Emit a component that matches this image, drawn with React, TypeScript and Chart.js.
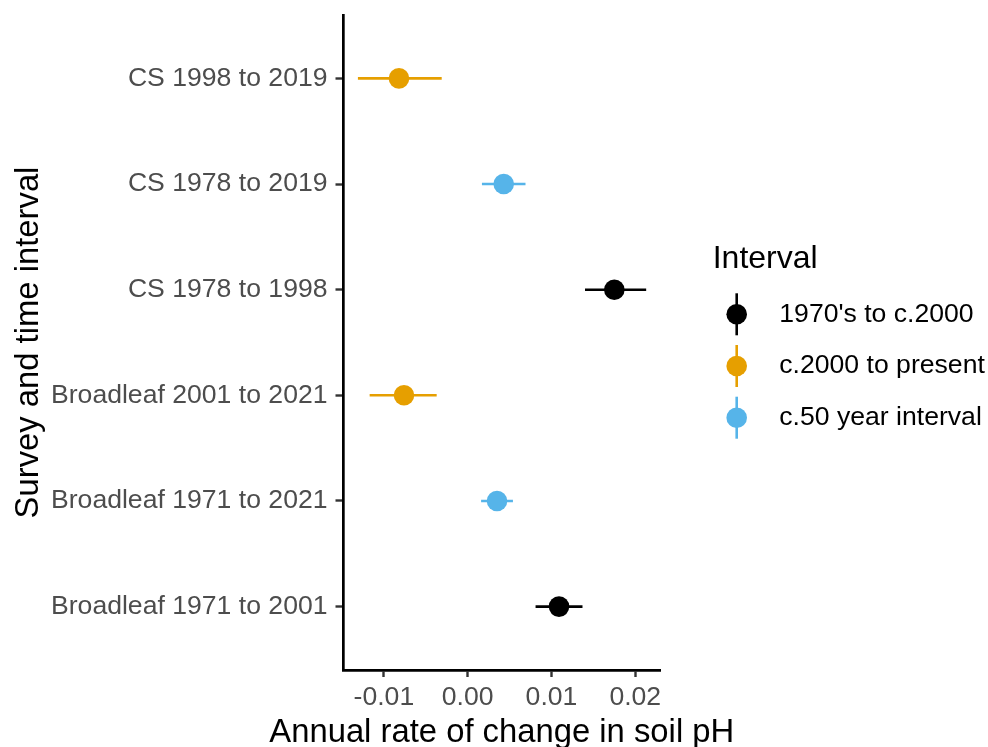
import React, { useEffect, useRef } from "react";
import { Chart, registerables } from "chart.js";

Chart.register(...registerables);

const FONT = '"Liberation Sans", Arial, Helvetica, sans-serif';

// Rows, bottom to top
const categories = [
  "Broadleaf 1971 to 2001",
  "Broadleaf 1971 to 2021",
  "Broadleaf 2001 to 2021",
  "CS 1978 to 1998",
  "CS 1978 to 2019",
  "CS 1998 to 2019",
];
const estimate = [0.0109, 0.0035, -0.0076, 0.0175, 0.0043, -0.0082];
const lower = [0.0081, 0.0016, -0.0117, 0.014, 0.0017, -0.0131];
const upper = [0.0137, 0.0054, -0.0037, 0.0213, 0.0069, -0.0031];
const intervalGroup = [
  "1970's to c.2000",
  "c.50 year interval",
  "c.2000 to present",
  "1970's to c.2000",
  "c.50 year interval",
  "c.2000 to present",
];

const groups = ["1970's to c.2000", "c.2000 to present", "c.50 year interval"];
const groupColors = ["#000000", "#E69F00", "#56B4E9"];

const xTickValues = [-0.01, 0.0, 0.01, 0.02];
const xMin = -0.01482;
const xMax = 0.02295;

const xTitle = "Annual rate of change in soil pH";
const yTitle = "Survey and time interval";
const legendTitle = "Interval";

const TEXT_SIZE = 26.6;
const TITLE_SIZE = 32.8;

const legendPlugin = {
  id: "ggLegend",
  afterDraw(chart: any) {
    const ctx = chart.ctx as CanvasRenderingContext2D;
    const area = chart.chartArea;
    ctx.save();
    // x axis title (drawn here so that it is not squeezed to the panel width)
    ctx.fillStyle = "#000000";
    ctx.font = `${TITLE_SIZE}px ${FONT}`;
    ctx.textAlign = "center";
    ctx.textBaseline = "alphabetic";
    ctx.fillText(xTitle, (area.left + area.right) / 2, 741.7);

    // legend
    ctx.font = `32px ${FONT}`;
    ctx.textAlign = "left";
    ctx.fillText(legendTitle, 712.7, 268);
    groups.forEach((g, i) => {
      const y = 314.3 + i * 51.7;
      const kx = 736.7;
      ctx.strokeStyle = groupColors[i];
      ctx.lineWidth = 2.6;
      ctx.beginPath();
      ctx.moveTo(kx, y - 21);
      ctx.lineTo(kx, y + 21);
      ctx.stroke();
      ctx.beginPath();
      ctx.arc(kx, y, 10.3, 0, Math.PI * 2);
      ctx.fillStyle = groupColors[i];
      ctx.fill();
      ctx.fillStyle = "#000000";
      ctx.font = `${TEXT_SIZE}px ${FONT}`;
      ctx.textBaseline = "middle";
      ctx.fillText(g, 779.3, y);
    });
    ctx.restore();
  },
};

export default function App() {
  const ref = useRef<HTMLCanvasElement>(null);

  useEffect(() => {
    const canvas = ref.current;
    if (!canvas) return;

    const barDatasets = categories.map((c, i) => {
      const gi = groups.indexOf(intervalGroup[i]);
      return {
        type: "scatter" as const,
        label: "ci " + c,
        data: [
          { x: lower[i], y: i + 1 },
          { x: upper[i], y: i + 1 },
        ],
        showLine: true,
        borderColor: groupColors[gi],
        backgroundColor: groupColors[gi],
        borderWidth: 2.6,
        pointRadius: 0,
        order: 2,
      };
    });

    const pointDatasets = groups.map((g, gi) => ({
      type: "scatter" as const,
      label: g,
      data: categories
        .map((_, i) => (intervalGroup[i] === g ? { x: estimate[i], y: i + 1 } : null))
        .filter((p) => p !== null),
      backgroundColor: groupColors[gi],
      borderColor: groupColors[gi],
      borderWidth: 0,
      pointRadius: 10.3,
      pointHoverRadius: 10.3,
      order: 1,
    }));

    const chart = new Chart(canvas, {
      type: "scatter",
      data: { datasets: [...barDatasets, ...pointDatasets] as any },
      plugins: [legendPlugin],
      options: {
        animation: false,
        responsive: false,
        events: [],
        layout: { padding: { top: 15, right: 328, bottom: 0, left: 0 } },
        plugins: {
          legend: { display: false },
          tooltip: { enabled: false },
          title: { display: false },
        },
        scales: {
          x: {
            type: "linear",
            min: xMin,
            max: xMax,
            afterBuildTicks: (scale: any) => {
              scale.ticks = xTickValues.map((v) => ({ value: v }));
            },
            afterFit: (scale: any) => {
              scale.height = 77;
              scale.paddingLeft = 0;
              scale.paddingRight = 0;
            },
            ticks: {
              callback: (v: any) => Number(v).toFixed(2),
              font: { family: FONT, size: TEXT_SIZE },
              color: "#4D4D4D",
              padding: 5,
              maxRotation: 0,
              autoSkip: false,
            },
            grid: {
              display: true,
              drawOnChartArea: false,
              drawTicks: true,
              tickLength: 7,
              tickColor: "#333333",
              tickWidth: 2.4,
            },
            border: { display: true, color: "#000000", width: 2.7 },
            title: { display: false },
          },
          y: {
            type: "linear",
            min: 0.4,
            max: 6.6,
            afterBuildTicks: (scale: any) => {
              scale.ticks = categories.map((_, i) => ({ value: i + 1 }));
            },
            afterFit: (scale: any) => {
              scale.width = 343.5;
              scale.paddingTop = 0;
              scale.paddingBottom = 0;
            },
            ticks: {
              callback: (v: any) => categories[Math.round(Number(v)) - 1] ?? "",
              font: { family: FONT, size: TEXT_SIZE },
              color: "#4D4D4D",
              padding: 8,
              autoSkip: false,
            },
            grid: {
              display: true,
              drawOnChartArea: false,
              drawTicks: true,
              tickLength: 8,
              tickColor: "#333333",
              tickWidth: 2.4,
            },
            border: { display: true, color: "#000000", width: 2.7 },
            title: {
              display: true,
              text: yTitle,
              color: "#000000",
              font: { family: FONT, size: TITLE_SIZE },
              padding: { top: 9, bottom: 0 },
            },
          },
        },
      },
    });

    return () => chart.destroy();
  }, []);

  return (
    <div style={{ position: "fixed", left: 0, top: 0, width: 988, height: 747, background: "#ffffff" }}>
      <canvas ref={ref} width={988} height={747} style={{ display: "block", width: 988, height: 747 }} />
    </div>
  );
}
